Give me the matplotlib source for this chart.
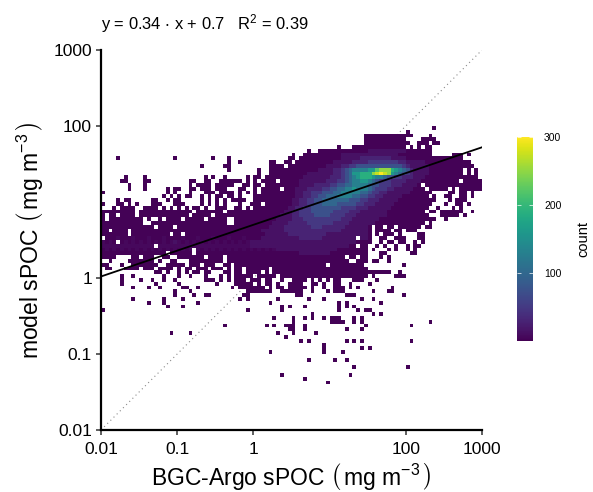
import numpy as np
import matplotlib
matplotlib.use("Agg")
import matplotlib.pyplot as plt

plt.rcParams['font.family'] = ['Liberation Sans', 'DejaVu Sans']
plt.rcParams['mathtext.fontset'] = 'custom'
plt.rcParams['mathtext.rm'] = 'Liberation Sans'
plt.rcParams['mathtext.it'] = 'Liberation Sans'
plt.rcParams['mathtext.default'] = 'regular'

W = 593
H = 492

tick_values = [0.01, 0.1, 1, 100, 1000]
tick_labels = ["0.01", "0.1", "1", "100", "1000"]
cbar_ticks = [100, 200, 300]

slope = 0.34
intercept = 0.7

# count for each character of the grid
counts = {"1": 3, "0": 8, "2": 15, "3": 30, "4": 50, "5": 75, "6": 100, "7": 130,
          "8": 160, "9": 190, "a": 220, "b": 250, "c": 275, "d": 300}

first_row = 20  # rows run from the top of the plot, 100 bins per axis
grid = [
    ".......... .......... .......... .......... .......... .......... .......... .......... .......1..",
    ".......... .......... .......... .......... .......... .......... .......... .......... 1.........",
    ".......... .......... .......... .......... .......... .......... .........1 1111111111 11....1...",
    ".......... .......... .......... .......... .......... .......... .........1 1111111111 ....1111..",
    ".......... .......... .......... .......... .......... .......... .........1 1111111111 1..111.11.",
    ".......... .......... .......... .......... .......... .......... ..1...1111 1111111111 .1.1.11...",
    ".......... .......... .......... .......... .......... ....1..111 1111111111 2222222222 1111111...",
    ".......... .......... .......... .......... .......... 1..1111111 1112222222 2222222211 1111111... ..111.1...",
    "....1..... .........1 .........1 ...1...... .........1 1.11111111 1112222233 3333332222 1111111111 11111.....",
    ".......... .......... .......... ...1..1... ....11..11 .111111111 1222223333 4444444433 2222211111 1111111...",
    ".......... .......... ......1... ..11...... ....1111.1 1111111112 2223344555 5555555554 3222221111 11111111..",
    ".......... .......... .......... ...1...... .1..111111 1111111222 2334567777 88abbb9876 5322221111 11111.1.1.",
    ".......... .......... .......... .......... .1..111111 1111222222 2334568899 9bcdcb8765 4322221111 11111.1.1.",
    "......1... .1........ .......1.1 ..1.....1. 11.1111111 1112222222 3334567899 9877655443 3322211111 111111111.",
    ".....11... .11....... ...11..11. .111111.1. 1.1111.111 1122222223 3344567788 7654443333 2222111111 1111.11111",
    ".......1.. .1........ ...1.1111. 11111..11. 11.1111111 1122223333 4455667777 6554443332 2221.11111 1111111111",
    ".......1.. .1.....1.1 1..11.111. 111...11.. 1.11111.11 1222333344 5566778777 6544433222 22111.1111 1.1.111111",
    "1......... .......1.1 ...1...111 .1111.1.1. 1.11111111 1223344455 5667777766 5443322222 2111111... .11.11.1..",
    ".......... ......1.1. 1.11..1.1. 11.11.1... 1111111111 1223344556 6677776655 4433222221 111111.1.. 11..11.1..",
    "....1.11.. ...11..1.1 1.....1.1. 1.1.1111.. 1111111111 2233445566 6666655544 3332222211 11111111.. .1.111....",
    "1...11.1.1 ...111...1 11....1.1. 1.1...1..1 11.1111111 2233445566 6655555443 3322222111 1111111... 1..11.1...",
    "...1.1111. .1111.1.1. 1.1.11.1.. 111..11.1. 1111111112 2334455555 5554444333 2222221111 111111..1. ..1.1.....",
    "111111111. 1111111111 1111.11111 11.1111111 1111111122 3344455555 5444433322 2222211111 11111.11.1 11111..1..",
    "1.11.1111. 1111111111 111.11111. 1111111111 1111111222 3344445555 4444333222 2222211111 111111...1 1111.1....",
    "1.11111111 1.1..1.111 1.11111.11 111..11111 1111112222 3334444444 4443332222 2221111111 11111111.. 1.........",
    "1111111111 1..1111111 1111111111 111..11111 1111122223 3333444444 4333322222 2211111111 11111.1...",
    "1111111111 1111.1111. 1111111111 1111111111 1111222233 3333344433 3333222222 1.11.11.11 1111.11...",
    "11.1111.11 1111111111 1111111111 1111111111 1122222233 3333333333 3332222222 1.1111.11. 111.......",
    "1111111.11 11111111.1 1.11111111 1111111111 1112222223 3333333332 2222222222 1.1.111.1. ...11.....",
    ".111011101 1101110111 1011101110 1110111011 1122222222 2233333322 2222222.22 1..11..111 ...11.....",
    "0101.10101 0101010102 0101010101 0101010102 2222222222 2222222222 2222222111 1..1.11.11 ..1.1.....",
    "0000000000 0000.00000 0000000000 0000000002 2222222222 2222222222 2222211.11 ..1.1..1.. 1.11......",
    "1010101010 1010101010 1010.01010 1010101010 1010102222 2222222222 2211111111 .1...1.1.. 1.1.......",
    "1111111111 1111111.11 1111.11111 1111111111 1111111111 1122222222 1111111111 ...11..... .11.......",
    "1111....11 .111..11.. 1111111.11 11.1111111 1111111111 1111111111 1111.11.11 ...1.1....",
    "..1....111 1111.1..11 ...1111111 11.1111111 1111111111 1111111111 11111..111 .11..1....",
    "11...1..11 11111..111 11.111.111 ..11.11111 1111111111 111111111. 111111111. .........1",
    ".11...1111 .111.1111. 1.11.111.1 11.1.11.11 1111.11111 1111111111 1111111111",
    ".......... ....11.1.. 1.1.11.11. ..11.11.11 11.1.11111 1111111111 1111111111 111111..1.",
    ".....1..1. ......1... 1..1...1.. .1.1.11111 .11111.111 1111111111 1111111111 .1.....111",
    ".....1.... 1..1..1..1 .......111 .1.1.111.1 11.11..1.. 1111.1.1.1 .11...111. ..1.......",
    ".....1.... ....1..... 1......... 1....11111 .1.11.1..1 111..11.1. .11..1.... 1.........",
    "........1. ..1..1.... .11..1.... ....1.1111 111.1.11.1 1111.1..1. .111.1.1.. ......1...",
    ".......... .........1 ...1...... ........11 11111..111 111..1...1 .111...... .1...11...",
    ".......... .........1 ....1..11. .......11. .......... .11....... ....111... .........1",
    "........1. ......1... .1........ ......1.1. ......1... ....1...1. ........1. .1........",
    ".......... ..1...1... .....1.... .......... ....1..... .......... ..1.1..... ...1......",
    ".......... .......1.. .1........ .......... .......1.1 ...1...... ..1.1.1...",
    "1......... .......... .......... ........1. .......1.. .......... ..1....1.1 1.........",
    ".......... .......... .......... .......... .......... .....1.... .......... .1.1......",
    ".......... .......... .......... .......... .....1.... 1..1.1..1. 111...1.1.",
    ".......... .......... .......... .......... .......... 1......... 1111..1.1. .......... ......1...",
    ".......... .......... .......... ..1....... ...1.1..11 1..1...... .........1 .......... .1........",
    ".......... .......... .......... .......... .........1 1..1...... ....1...1.",
    ".......... ........1. ...1...... .......... ......1... 1.....1...",
    ".......... .......... .......... .......... ........1.",
    ".......... .......... .......... .......... .......... ..1.1..... ....1.1.1. .......... .1........",
    ".......... .......... .......... .......... .......... ........1.",
    ".......... .......... .......... .......... .......... ........1. ........1. 1.........",
    ".......... .......... .......... .......... ....1..... ........1. ...1......",
    "",
    ".......... .......... .......... .......... .......... ....1..... .1..1.....",
    "",
    ".......... .......... .......... .......... .......... .......... ......1... .......... 1.........",
    "",
    ".......... .......... .......... .......... .......1.. .......... .....1....",
    ".......... .......... .......... .......... .......... ...1......",
    ".......... .......... .......... .......... .......... .........1",
]

z = np.full((100, 100), np.nan)
for i, row in enumerate(grid):
    row = row.replace(" ", "").ljust(100, ".")
    for j, ch in enumerate(row):
        if ch != ".":
            z[99 - (first_row + i), j] = counts[ch]

edges = 10 ** np.linspace(-2, 3, 101)

fig = plt.figure(figsize=(W / 100, H / 100), dpi=100)
ax = fig.add_axes([101 / W, 1 - 430 / H, 381 / W, 380 / H])

# 1:1 line sits under the bins
ax.plot([0.01, 1000], [0.01, 1000], color="#8a8a8a", lw=0.8, ls=(0, (1, 3)), zorder=1)
mesh = ax.pcolormesh(edges, edges, np.ma.masked_invalid(z), cmap="viridis",
                     vmin=1, vmax=300, zorder=2, linewidth=0)
lx = np.array([0.01, 1000])
ax.plot(lx, 10 ** (slope * np.log10(lx) + intercept), color="black", lw=1.3, zorder=3)

ax.set_xscale("log")
ax.set_yscale("log")
ax.set_xlim(0.01, 1000)
ax.set_ylim(0.01, 1000)
ax.set_xticks(tick_values)
ax.set_xticklabels(tick_labels)
ax.set_yticks([0.01, 0.1, 1, 100, 1000])
ax.set_yticklabels(tick_labels)
ax.minorticks_off()
ax.tick_params(labelsize=12.5, length=3.5, width=1.1, color="#333333", labelcolor="black")
ax.tick_params(axis="x", pad=5)
ax.tick_params(axis="y", pad=3)
ax.spines["top"].set_visible(False)
ax.spines["right"].set_visible(False)
ax.spines["left"].set_linewidth(1.6)
ax.spines["bottom"].set_linewidth(1.6)

ax.set_xlabel(r"BGC-Argo sPOC $\left(\,\mathrm{mg\ m^{-3}}\,\right)$", fontsize=16.5, labelpad=3)
ax.set_ylabel(r"model sPOC $\left(\,\mathrm{mg\ m^{-3}}\,\right)$", fontsize=16.5, labelpad=6)

fig.text(101 / W, 1 - 24 / H, r"y = 0.34 $\cdot$ x + 0.7   R$^2$ = 0.39", fontsize=11.9,
         va="center", ha="left")

cax = fig.add_axes([517 / W, 1 - 341 / H, 16 / W, 204 / H])
cb = fig.colorbar(mesh, cax=cax)
cb.set_ticks(cbar_ticks)
cb.outline.set_visible(False)
cax.minorticks_off()
cax.tick_params(which="major", direction="in", left=True, right=True, length=3, width=0.5,
                color="white", labelsize=7.5, pad=8)
cax.set_ylabel("count", fontsize=10.5, labelpad=11, rotation=90)
cax.yaxis.set_label_position("right")

fig.savefig("out.png", dpi=100)
